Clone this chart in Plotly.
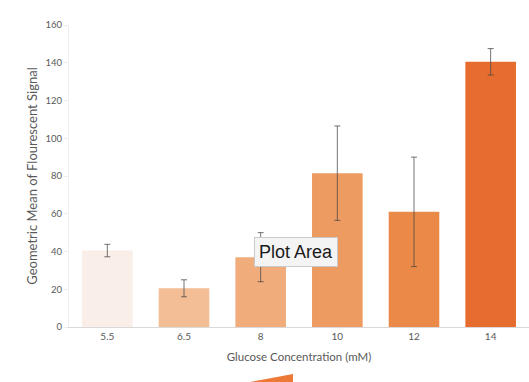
import plotly.graph_objects as go

categories = ["5.5", "6.5", "8", "10", "12", "14"]
values = [40.5, 20.5, 37, 81.5, 61, 140.5]
errors = [3.3, 4.5, 13, 25, 29, 7]
colors = ["#FAEEE8", "#F3BD95", "#F1AC7C", "#EE9B62", "#EB8A48", "#E66D2F"]
y_ticks = [0, 20, 40, 60, 80, 100, 120, 140, 160]

W, H = 529, 382
ml, mr, mt, mb = 69, 0, 25, 55

fig = go.Figure()
fig.add_trace(go.Bar(
    x=categories, y=values,
    marker=dict(color=colors, line=dict(width=0)),
    error_y=dict(type="data", array=errors, visible=True,
                 color="rgba(70,70,70,0.75)", thickness=1, width=3),
    width=0.66,
))

fig.update_layout(
    width=W, height=H,
    margin=dict(l=ml, r=mr, t=mt, b=mb, autoexpand=False),
    paper_bgcolor="white", plot_bgcolor="white",
    showlegend=False,
    font=dict(family="Lato, Open Sans, sans-serif", color="#595959"),
    xaxis=dict(
        type="category", showgrid=False, showline=True, linecolor="#D9D9D9",
        linewidth=1, ticks="", tickfont=dict(size=10, color="#595959"),
        title=dict(text="Glucose Concentration (mM)", font=dict(size=11.5, color="#595959"), standoff=11),
    ),
    yaxis=dict(
        range=[0, 160], tickvals=y_ticks, showgrid=False, zeroline=False,
        showline=True, linecolor="#EEEEEE", linewidth=1,
        ticks="outside", ticklen=4, tickcolor="#EEEEEE",
        tickfont=dict(size=9.5, color="#595959"),
        title=dict(text="Geometric Mean of Flourescent Signal", font=dict(size=13, color="#595959"), standoff=5),
    ),
)

def px(x):
    return (x - ml) / (W - ml - mr)
def py(y):
    return (H - mb - y) / (H - mt - mb)

# "Plot Area" tooltip overlay
fig.add_annotation(
    x=px(296), y=py(252),
    xref="paper", yref="paper", text="Plot Area", showarrow=False,
    font=dict(family="Liberation Sans, Arial, sans-serif", size=18, color="#1A1A1A"),
    bgcolor="#F4F4F4", bordercolor="#C9C9C9", borderwidth=1, borderpad=4,
    xanchor="center", yanchor="middle",
)

# partial orange wedge at the bottom (clipped legend graphic)
fig.add_shape(
    type="path", xref="paper", yref="paper",
    path=f"M {px(250)} {py(382)} L {px(293)} {py(374)} L {px(293)} {py(382)} Z",
    fillcolor="#EC7A36", line=dict(width=0), layer="above",
)

fig.write_html("out.html", config={"displayModeBar": False},
               post_script="document.body.style.margin='0';document.body.style.overflow='hidden';")
